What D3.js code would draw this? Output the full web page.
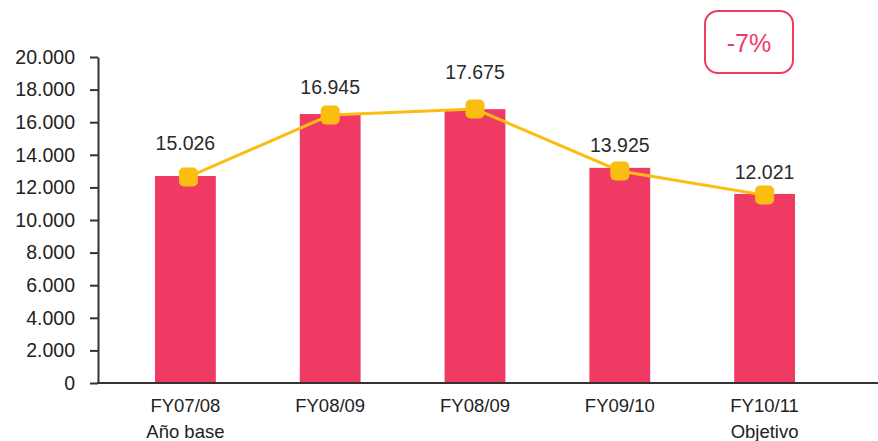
<!DOCTYPE html>
<html><head><meta charset="utf-8">
<script src="https://cdn.jsdelivr.net/npm/d3@7"></script>
<style>body{margin:0;background:#fff}svg{display:block;font-family:"Liberation Sans",Arial,Helvetica,sans-serif}</style>
</head><body><svg id="c" width="878" height="441"></svg>
<script>
const categories = ["FY07/08","FY08/09","FY08/09 ","FY09/10","FY10/11"];
const subLabels = ["Año base","","","","Objetivo"];
const barValues = [12700, 16500, 16800, 13200, 11600];
const lineValues = [12640, 16440, 16810, 13010, 11530];
const valueLabels = ["15.026","16.945","17.675","13.925","12.021"];
const yTicks = [0,2000,4000,6000,8000,10000,12000,14000,16000,18000,20000];
const badgeText = "-7%";

const svg = d3.select("#c");
const x0 = 98, yTop = 57, yBot = 383;
const x = d3.scaleBand().domain(categories).range([113, 837]).paddingInner(0.58).paddingOuter(0.29);
const y = d3.scaleLinear().domain([0,20000]).range([yBot, yTop]);
const fmt = v => d3.format(",")(v).replace(/,/g,".");

// bars
svg.append("g").selectAll("rect").data(barValues).join("rect")
  .attr("x",(d,i)=>x(categories[i])).attr("width",x.bandwidth())
  .attr("y",d=>y(d)).attr("height",d=>y(0)-y(d)).attr("fill","#EF3B63");

// y axis
const ya = svg.append("g").attr("transform",`translate(${x0},0)`)
  .call(d3.axisLeft(y).tickValues(yTicks).tickFormat(fmt).tickSize(8).tickSizeOuter(0).tickPadding(15));
ya.select(".domain").attr("stroke","#333").attr("stroke-width",2);
ya.selectAll(".tick line").attr("stroke","#333").attr("stroke-width",2);
ya.selectAll(".tick text").attr("font-size",19.5).attr("fill","#222").attr("font-family","inherit");

// x axis line
svg.append("line").attr("x1",x0-1).attr("x2",878).attr("y1",yBot).attr("y2",yBot)
  .attr("stroke","#333").attr("stroke-width",2);

// x labels
const xl = svg.append("g");
categories.forEach((c,i)=>{
  const cx = x(c)+x.bandwidth()/2;
  xl.append("text").attr("x",cx).attr("y",412).attr("text-anchor","middle")
    .attr("font-size",18.5).attr("fill","#222").text(c.trim());
  if(subLabels[i]) xl.append("text").attr("x",cx).attr("y",438).attr("text-anchor","middle")
    .attr("font-size",18.5).attr("fill","#222").text(subLabels[i]);
});

// line
const cxf = (d,i)=>x(categories[i])+x.bandwidth()/2 + (i===0?3:0);
svg.append("path").datum(lineValues)
  .attr("d",d3.line().x(cxf).y(d=>y(d)))
  .attr("fill","none").attr("stroke","#FBBD14").attr("stroke-width",3);
svg.append("g").selectAll("rect").data(lineValues).join("rect")
  .attr("x",(d,i)=>cxf(d,i)-9.5).attr("y",d=>y(d)-9.5).attr("width",19).attr("height",19)
  .attr("rx",5).attr("fill","#FCBD13");

// value labels
const labelY = [150, 94, 79, 152, 179];
svg.append("g").selectAll("text").data(valueLabels).join("text")
  .attr("x",(d,i)=>x(categories[i])+x.bandwidth()/2)
  .attr("y",(d,i)=>labelY[i]).attr("text-anchor","middle")
  .attr("font-size",19.5).attr("fill","#2a2a2a").text(d=>d);

// badge
svg.append("rect").attr("x",705).attr("y",11).attr("width",88).attr("height",62).attr("rx",13)
  .attr("fill","none").attr("stroke","#EF3B63").attr("stroke-width",2);
svg.append("text").attr("x",749).attr("y",52).attr("text-anchor","middle")
  .attr("font-size",25).attr("fill","#EF3B63").text(badgeText);
</script></body></html>
